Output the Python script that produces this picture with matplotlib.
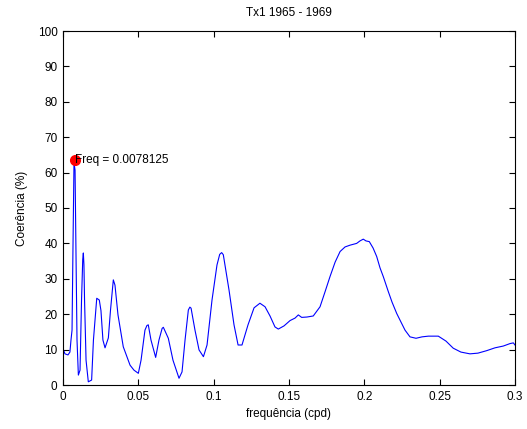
import numpy as np
import matplotlib
matplotlib.use('Agg')
import matplotlib.pyplot as plt

# coerencia (frequencia em cpd, coerencia em %)
freq = [0.0003, 0.0013, 0.0033, 0.0046, 0.0053, 0.0060, 0.0066, 0.0073, 0.0080, 0.0086,
        0.0093, 0.0102, 0.0113, 0.0123, 0.0131, 0.0135, 0.0139, 0.0143, 0.0153, 0.0168,
        0.0190, 0.0202, 0.0224, 0.0241, 0.0252, 0.0265, 0.0279, 0.0301, 0.0315, 0.0334,
        0.0345, 0.0365, 0.0400, 0.0445, 0.0471, 0.0500, 0.0518, 0.0544, 0.0557, 0.0566,
        0.0584, 0.0615, 0.0637, 0.0658, 0.0666, 0.0699, 0.0730, 0.0770, 0.0790, 0.0810,
        0.0832, 0.0842, 0.0850, 0.0876, 0.0903, 0.0932, 0.0956, 0.0989, 0.1022, 0.1040,
        0.1053, 0.1064, 0.1075, 0.1102, 0.1135, 0.1162, 0.1188, 0.1228, 0.1268, 0.1307,
        0.1341, 0.1374, 0.1407, 0.1429, 0.1467, 0.1507, 0.1540, 0.1562, 0.1584, 0.1619,
        0.1661, 0.1706, 0.1739, 0.1772, 0.1806, 0.1839, 0.1872, 0.1905, 0.1949, 0.1971,
        0.1993, 0.2011, 0.2033, 0.2058, 0.2082, 0.2104, 0.2126, 0.2159, 0.2184, 0.2215,
        0.2243, 0.2270, 0.2303, 0.2343, 0.2383, 0.2425, 0.2462, 0.2491, 0.2542, 0.2590,
        0.2641, 0.2701, 0.2754, 0.2812, 0.2867, 0.2922, 0.2967, 0.2989, 0.3000]
coer = [9.9, 8.8, 8.5, 9.3, 12.7, 15.5, 38.0, 62.7, 60.7, 38.0,
        12.7, 2.8, 4.2, 24.0, 35.5, 37.3, 34.0, 24.0, 7.0, 0.9,
        1.4, 12.7, 24.5, 24.0, 21.0, 12.7, 10.5, 13.3, 21.0, 29.7,
        28.2, 19.8, 10.8, 5.6, 4.2, 3.3, 7.0, 15.5, 16.8, 17.0,
        12.7, 7.8, 12.7, 16.0, 16.3, 13.2, 7.0, 1.9, 3.7, 12.7,
        21.2, 22.0, 21.7, 15.5, 9.9, 8.0, 11.3, 24.0, 33.9, 36.9,
        37.4, 36.8, 33.9, 26.8, 17.0, 11.3, 11.3, 17.0, 21.8, 23.1,
        22.1, 19.5, 16.4, 15.8, 16.7, 18.2, 18.9, 19.8, 19.1, 19.2,
        19.5, 22.1, 26.3, 30.6, 34.7, 37.7, 39.0, 39.5, 40.0, 40.7,
        41.2, 40.7, 40.5, 38.7, 36.3, 33.1, 30.6, 26.4, 23.4, 20.2,
        17.8, 15.5, 13.6, 13.2, 13.6, 13.8, 13.8, 13.8, 12.4, 10.4,
        9.3, 8.8, 9.0, 9.7, 10.5, 11.0, 11.7, 11.9, 11.3]

freq_max = 0.0078125
coer_max = 63.5
xticks = [0, 0.05, 0.1, 0.15, 0.2, 0.25, 0.3]
xticklabels = ['0', '0.05', '0.1', '0.15', '0.2', '0.25', '0.3']
yticks = list(range(0, 101, 10))

plt.rcParams['font.family'] = ['Liberation Sans', 'DejaVu Sans']

fig = plt.figure(figsize=(5.27, 4.29), dpi=100)
ax = fig.add_axes([63/527, 44/429, 452/527, 354/429])

ax.plot(freq, coer, color='#0000ff', lw=0.8)
ax.plot(freq_max, coer_max, 'o', color='red', markersize=7)
ax.text(freq_max + 0.0003, coer_max, 'Freq = 0.0078125', fontsize=8.5, va='center', ha='left')

ax.set_xlim(0, 0.3)
ax.set_ylim(0, 100)
ax.set_xticks(xticks)
ax.set_xticklabels(xticklabels)
ax.set_yticks(yticks)
ax.tick_params(direction='in', top=True, right=True, labelsize=8.5, length=4, width=0.8, pad=4)
for s in ax.spines.values():
    s.set_linewidth(0.8)

ax.set_title('Tx1 1965 - 1969', fontsize=8.5, pad=11)
ax.set_xlabel('frequência (cpd)', fontsize=8.5, labelpad=4)
ax.set_ylabel('Coerência (%)', fontsize=8.5, labelpad=7)

fig.savefig('out.png', dpi=100)
